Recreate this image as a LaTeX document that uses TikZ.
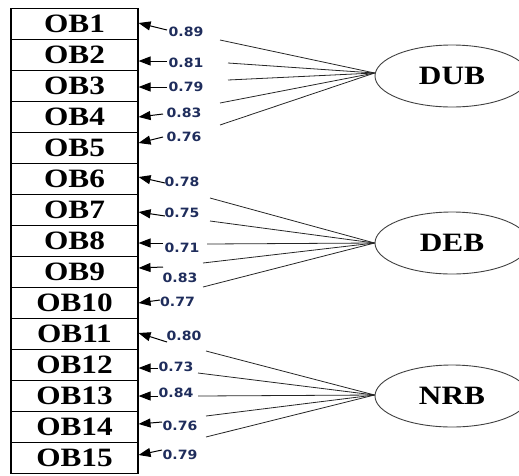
\documentclass[tikz,border=0pt]{standalone}
\usepackage{fontspec}
\usetikzlibrary{arrows.meta,shapes.geometric}
\newfontfamily\obfont[FakeStretch=1.18]{Liberation Serif}
\newfontfamily\numfont[FakeStretch=1.1]{DejaVu Sans}
\definecolor{loadcol}{RGB}{31,45,92}
\begin{document}
\begin{tikzpicture}[x=1pt,y=-1pt,
  obbox/.style={draw,line width=1.1pt,minimum width=127pt,minimum height=31pt,
    inner sep=0pt,font=\obfont\bfseries\fontsize{26.5}{26.5}\selectfont},
  factor/.style={draw=black!75,line width=0.9pt,ellipse,minimum width=154pt,
    minimum height=62pt,inner sep=0pt,font=\obfont\bfseries\fontsize{26.5}{26.5}\selectfont},
  load/.style={font=\numfont\bfseries\fontsize{12.8}{12.8}\selectfont,text=loadcol,inner sep=0pt},
  arr/.style={line width=1pt,-{Triangle[length=12pt,width=9pt]}},
  link/.style={line width=0.8pt,draw=black!85}]
\path[clip] (0,0) rectangle (519,475);

% indicator boxes
\foreach \i in {1,...,15}
  \node[obbox] (ob\i) at (74.5,{8.5+31*(\i-0.5)}) {OB\i};

% latent factors
\node[factor] (dub) at (452,76) {DUB};
\node[factor] (deb) at (452,243) {DEB};
\node[factor] (nrb) at (452,396) {NRB};

% loading lines fanning out of each factor
\foreach \n/\x/\y in {d1/220/40,d2/228/63,d3/228/80,d4/220/103,d5/220/125}{
  \coordinate (\n) at (\x,\y);
  \draw[link] (\n) -- ([yshift=3pt]dub.west);
}
\foreach \n/\x/\y in {e1/210/198,e2/210/221,e3/207/244,e4/203/263,e5/203/287}{
  \coordinate (\n) at (\x,\y);
  \draw[link] (\n) -- (deb.west);
}
\foreach \n/\x/\y in {r1/206/351,r2/198/373,r3/198/396,r4/206/416,r5/206/437}{
  \coordinate (\n) at (\x,\y);
  \draw[link] (\n) -- ([yshift=1pt]nrb.west);
}

% loading values with their arrows into the boxes (shift = offset of the tip from the row centre)
\foreach \i/\tx/\ty/\sh/\lx/\ly/\v in {
  1/167/30/1/186/32/0.89,
  2/167/61/-6/186/63/0.81,
  3/167/87/-1/186/87/0.79,
  4/163/114/0/184/113/0.83,
  5/163/137/5/184/137/0.76,
  6/165/183/2/182/182/0.78,
  7/165/216/-2/182/213/0.75,
  8/163/243/-2/182/248/0.71,
  9/163/267/4/180/278/0.83,
  10/160/300/0/177.5/302/0.77,
  11/167/342/1/184/336/0.80,
  12/158/368/-3/176/367/0.73,
  13/158/396/0/176/393/0.84,
  14/162/422/3/180/426/0.76,
  15/162/450/3/180/455/0.79}{
  \coordinate (t\i) at (\tx,\ty);
  \node[load] (l\i) at (\lx,\ly) {\v};
  \draw[arr] (t\i) -- ([yshift=\sh pt]ob\i.east);
}
\end{tikzpicture}
\end{document}
